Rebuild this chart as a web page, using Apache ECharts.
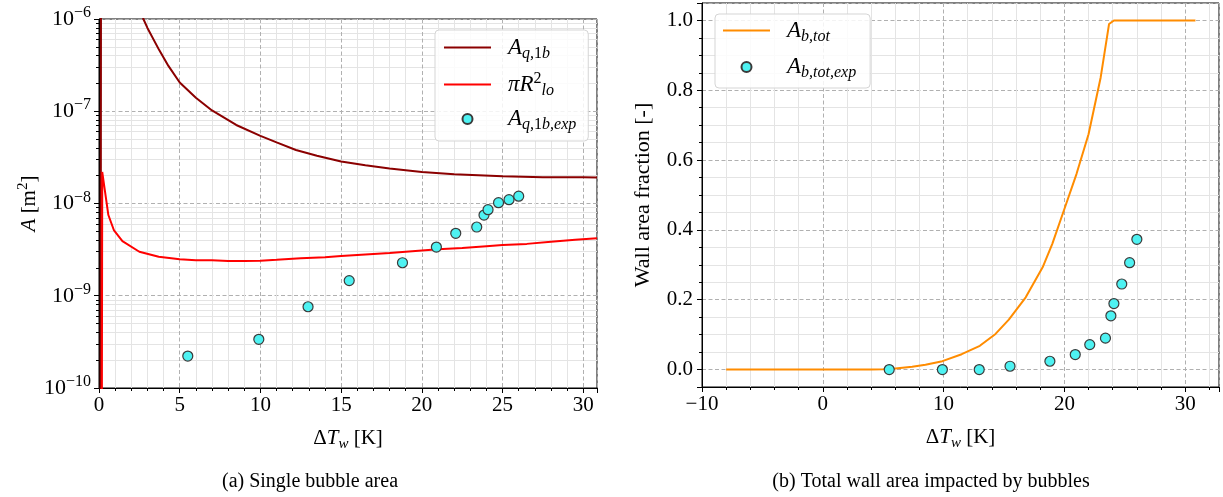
<!DOCTYPE html>
<html><head><meta charset="utf-8">
<script src="https://cdn.jsdelivr.net/npm/echarts@6/dist/echarts.min.js"></script>
<style>html,body{margin:0;padding:0;background:#fff}#c{width:1223px;height:497px}</style>
</head><body><div id="c"></div><script>
// ---- Data (a) single bubble area ----
const aq1bX = [0.10, 0.13, 1.5, 2.75, 3.0, 3.73, 4.3, 5, 6, 7, 8.5, 10, 11, 12.2, 13.5, 15, 16.5, 18, 20, 22, 25, 27.5, 30, 30.85];
const aq1bY = [1e-11, 1e-4, 1e-5, 1e-6, 8.0e-7, 4.6e-7, 3.1e-7, 2.05e-7, 1.4e-7, 1.02e-7, 7.1e-8, 5.4e-8, 4.6e-8, 3.8e-8, 3.3e-8, 2.85e-8, 2.6e-8, 2.4e-8, 2.2e-8, 2.08e-8, 1.97e-8, 1.93e-8, 1.92e-8, 1.91e-8];
const piRX = [0.17, 0.2, 0.58, 0.93, 1.45, 2.5, 3.7, 5, 6, 7, 8, 9, 10, 11, 12.5, 14, 15, 16.5, 18, 19, 20, 21, 22.5, 24, 25, 26.5, 28, 29.5, 30.85];
const piRY = [1e-11, 2.2e-8, 7.5e-9, 5.1e-9, 3.9e-9, 3.0e-9, 2.65e-9, 2.48e-9, 2.42e-9, 2.42e-9, 2.38e-9, 2.38e-9, 2.4e-9, 2.45e-9, 2.55e-9, 2.62e-9, 2.7e-9, 2.8e-9, 2.9e-9, 3.0e-9, 3.1e-9, 3.2e-9, 3.3e-9, 3.45e-9, 3.55e-9, 3.65e-9, 3.85e-9, 4.05e-9, 4.2e-9];
const expX = [5.5, 9.9, 12.95, 15.5, 18.8, 20.9, 22.1, 23.4, 23.85, 24.1, 24.75, 25.4, 26.0];
const expA = [2.22e-10, 3.37e-10, 7.6e-10, 1.46e-9, 2.28e-9, 3.37e-9, 4.75e-9, 5.56e-9, 7.5e-9, 8.57e-9, 1.02e-8, 1.1e-8, 1.2e-8];
// ---- Data (b) total wall area ----
const abX = [-8, 0, 4, 5, 6, 7.4, 8.5, 9.9, 11.5, 13, 14.3, 15.4, 16.8, 18.2, 19, 20, 21, 22, 23, 23.7, 24.1, 30.85];
const abY = [0, 0, 0, 0.001, 0.003, 0.008, 0.014, 0.024, 0.044, 0.068, 0.102, 0.143, 0.207, 0.293, 0.36, 0.46, 0.56, 0.674, 0.836, 0.99, 1, 1];
const expFrac = [0, 0, 0, 0.0095, 0.0238, 0.043, 0.0714, 0.090, 0.154, 0.189, 0.245, 0.306, 0.373];
// ---- Axis ticks ----
const logMajor = [1e-10, 1e-9, 1e-8, 1e-7, 1e-6];
const logMinorMult = [2, 3, 4, 5, 6, 7, 8, 9];
const captions = ['(a) Single bubble area', '(b) Total wall area impacted by bubbles'];

const zip = (xs, ys) => xs.map((x, i) => [x, ys[i]]);
const logMinor = [];
logMajor.slice(0, -1).forEach(d => logMinorMult.forEach(m => logMinor.push(+(m * d).toPrecision(3))));

const FONT = 'Liberation Serif';
const rich = {
  rm: {fontFamily: FONT, fontSize: 21, lineHeight: 28, color: '#000'},
  it: {fontFamily: FONT, fontSize: 21, fontStyle: 'italic', lineHeight: 28, color: '#000'},
  sub: {fontFamily: FONT, fontSize: 15, fontStyle: 'italic', lineHeight: 15, verticalAlign: 'bottom', color: '#000'},
  subrm: {fontFamily: FONT, fontSize: 15, lineHeight: 15, verticalAlign: 'bottom', color: '#000'},
  sup: {fontFamily: FONT, fontSize: 15, lineHeight: 15, verticalAlign: 'top', color: '#000'}
};
const lrich = {
  it: {fontFamily: FONT, fontSize: 23, fontStyle: 'italic', lineHeight: 28, color: '#000'},
  sub: {fontFamily: FONT, fontSize: 16, fontStyle: 'italic', lineHeight: 15, verticalAlign: 'bottom', color: '#000'},
  subrm: {fontFamily: FONT, fontSize: 16, lineHeight: 15, verticalAlign: 'bottom', color: '#000'},
  sup: {fontFamily: FONT, fontSize: 16, lineHeight: 15, verticalAlign: 'top', color: '#000'},
  gap: {width: 12, fontSize: 10}
};
const legendText = {
  Aq1b: '{gap| }{it|A}{sub|q,}{subrm|1}{sub|b}',
  piR2: '{gap| }{it|πR}{sup|2}{sub|lo}',
  Aq1bexp: '{gap| }{it|A}{sub|q,}{subrm|1}{sub|b,exp}',
  Abtot: '{gap| }{it|A}{sub|b,tot}',
  Abtotexp: '{gap| }{it|A}{sub|b,tot,exp}'
};
const majorGrid = {show: true, lineStyle: {color: '#b0b0b0', type: [4, 2.5], width: 1}};
const minorGrid = {show: true, lineStyle: {color: '#e4e4e4', width: 1}};
const tickStyle = {show: true, inside: false, length: 5, lineStyle: {color: '#000', width: 1}};
const minorTickStyle = (n) => ({show: true, splitNumber: n, length: 3, lineStyle: {color: '#000', width: 1}});
const axisLine = {show: true, onZero: false, lineStyle: {color: '#000', width: 1}};
const labelStyle = {color: '#000', fontFamily: FONT, fontSize: 21};
const xName = '{rm|Δ}{it|T}{sub|w}{rm| [K]}';

const legendBase = {
  orient: 'vertical', itemWidth: 47, itemHeight: 10,
  backgroundColor: 'rgba(255,255,255,0.85)', borderColor: '#d5d5d5', borderWidth: 1, borderRadius: 4,
  formatter: n => legendText[n], textStyle: {rich: lrich, fontFamily: FONT, fontSize: 23},
  selectedMode: false
};
const hideSym = {opacity: 0};

const option = {
  animation: false,
  backgroundColor: '#fff',
  title: [
    {text: captions[0], left: 305, top: 467, textAlign: 'center', textStyle: {fontFamily: FONT, fontSize: 20, fontWeight: 'normal', color: '#000'}},
    {text: captions[1], left: 926, top: 467, textAlign: 'center', textStyle: {fontFamily: FONT, fontSize: 20, fontWeight: 'normal', color: '#000'}}
  ],
  grid: [
    {left: 99, top: 19, width: 498, height: 369, show: true, borderColor: '#000', borderWidth: 1, containLabel: false},
    {left: 702, top: 3, width: 517, height: 384, show: true, borderColor: '#000', borderWidth: 1, containLabel: false}
  ],
  legend: [
    Object.assign({}, legendBase, {data: [{name: 'Aq1b', itemStyle: hideSym}, {name: 'piR2', itemStyle: hideSym}, 'Aq1bexp'],
      left: 435, top: 30, itemGap: 9, padding: [6, 12, 8, 8]}),
    Object.assign({}, legendBase, {data: [{name: 'Abtot', itemStyle: hideSym}, 'Abtotexp'],
      left: 715, top: 14, itemGap: 11, padding: [5, 14, 7, 7]})
  ],
  xAxis: [
    {type: 'value', gridIndex: 0, min: 0, max: 30.85, interval: 5,
     axisLine, axisTick: tickStyle, minorTick: minorTickStyle(5),
     splitLine: majorGrid, minorSplitLine: minorGrid,
     axisLabel: Object.assign({}, labelStyle, {margin: 7, showMaxLabel: false}),
     name: xName, nameLocation: 'middle', nameGap: 36, nameTextStyle: {rich: rich}},
    {type: 'value', gridIndex: 1, min: -10, max: 32.8, interval: 10,
     axisLine, axisTick: tickStyle, minorTick: minorTickStyle(5),
     splitLine: majorGrid, minorSplitLine: minorGrid,
     axisLabel: Object.assign({}, labelStyle, {margin: 7, showMaxLabel: false, formatter: v => String(v).replace('-', '−')}),
     name: xName, nameLocation: 'middle', nameGap: 36, nameTextStyle: {rich: rich}}
  ],
  yAxis: [
    {type: 'log', logBase: 10, gridIndex: 0, min: 1e-10, max: 1e-6,
     axisLine, axisTick: tickStyle, splitLine: majorGrid,
     axisLabel: {margin: 8, rich: {
       rm: {fontFamily: FONT, fontSize: 22, lineHeight: 28, color: '#000'},
       sup: {fontFamily: FONT, fontSize: 16, lineHeight: 16, verticalAlign: 'top', color: '#000'}},
       formatter: v => '{rm|10}{sup|−' + (-Math.round(Math.log10(v))) + '}'},
     name: '{it|A}{rm| [m}{sup|2}{rm|]}', nameLocation: 'middle', nameRotate: 90, nameGap: 38, nameTextStyle: {rich: rich}},
    {type: 'log', logBase: 10, gridIndex: 0, min: 1e-10, max: 1e-6, position: 'left', offset: 0,
     axisLine: {show: false}, axisLabel: {show: false},
     axisTick: {show: true, length: 3, customValues: logMinor, lineStyle: {color: '#000', width: 1}},
     splitLine: {show: true, lineStyle: {color: '#e4e4e4', width: 1}}},
    {type: 'value', gridIndex: 1, min: -0.05, max: 1.05,
     axisLine, axisTick: tickStyle, minorTick: minorTickStyle(4),
     splitLine: majorGrid, minorSplitLine: minorGrid,
     axisLabel: Object.assign({}, labelStyle, {margin: 9, showMinLabel: false, showMaxLabel: false, formatter: v => v.toFixed(1)}),
     name: 'Wall area fraction [-]', nameLocation: 'middle', nameRotate: 90, nameGap: 48,
     nameTextStyle: {fontFamily: FONT, fontSize: 22, color: '#000'}}
  ],
  series: [
    {name: 'Aq1b', type: 'line', xAxisIndex: 0, yAxisIndex: 0, data: zip(aq1bX, aq1bY), symbol: 'none',
     lineStyle: {color: '#8b0000', width: 2}, itemStyle: {color: '#8b0000'}, clip: true, z: 3},
    {name: 'piR2', type: 'line', xAxisIndex: 0, yAxisIndex: 0, data: zip(piRX, piRY), symbol: 'none',
     lineStyle: {color: '#ff0000', width: 2}, itemStyle: {color: '#ff0000'}, clip: true, z: 4},
    {name: 'Aq1bexp', type: 'scatter', xAxisIndex: 0, yAxisIndex: 0, data: zip(expX, expA), symbol: 'circle', symbolSize: 10,
     itemStyle: {color: '#4ef2f2', borderColor: '#3a3a3a', borderWidth: 1.2, opacity: 1}, z: 5},
    {name: 'Abtot', type: 'line', xAxisIndex: 1, yAxisIndex: 2, data: zip(abX, abY), symbol: 'none',
     lineStyle: {color: '#ff8c00', width: 2}, itemStyle: {color: '#ff8c00'}, clip: true, z: 3},
    {name: 'Abtotexp', type: 'scatter', xAxisIndex: 1, yAxisIndex: 2, data: zip(expX, expFrac), symbol: 'circle', symbolSize: 10,
     itemStyle: {color: '#4ef2f2', borderColor: '#3a3a3a', borderWidth: 1.2, opacity: 1}, z: 5}
  ]
};
const chart = echarts.init(document.getElementById('c'), null, {renderer: 'canvas'});
chart.setOption(option);
</script></body></html>
